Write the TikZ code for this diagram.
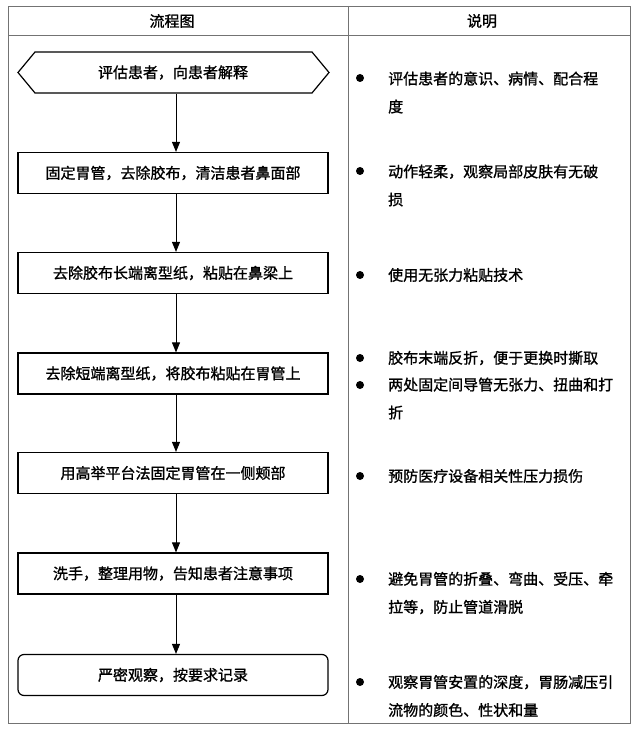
\documentclass[tikz,border=0pt]{standalone}
\usepackage{fontspec}
\newfontfamily\cjk[FakeBold=1.2]{Noto Sans CJK SC}
\usetikzlibrary{arrows.meta}

\tikzset{
    tableline/.style={draw=black!55,line width=0.9pt},
    stepbox/.style={draw,line width=1.2pt,minimum width=310pt,minimum height=41pt,inner sep=0pt,font=\cjk\fontsize{15}{28}\selectfont},
    notetext/.style={anchor=west,align=left,inner sep=0pt,font=\cjk\fontsize{15}{28}\selectfont},
    bulletdot/.style={circle,fill=black,inner sep=0pt,minimum size=8pt},
    flowarrow/.style={-{Triangle[length=10pt,width=8pt]},line width=1pt},
}

\begin{document}
\begin{tikzpicture}[x=1pt,y=-1pt]
        \useasboundingbox (0,0) rectangle (641,730);
        % table
        \draw[tableline] (8,6) rectangle (630,723);
        \draw[tableline] (8,35) -- (630,35);
        \draw[tableline] (348,6) -- (348,723);
        \node[font=\cjk\fontsize{15}{18}\selectfont] (headflow) at (172,21) {流程图};
        \node[font=\cjk\fontsize{15}{18}\selectfont] (headnote) at (482,21) {说明};

        % flow steps
        \node[stepbox,draw=none] (s1) at (173,72.5) {评估患者，向患者解释};
        \draw[line width=1.2pt] (18,72.5) -- (35,52) -- (312,52) -- (329,72.5) -- (312,93) -- (35,93) -- cycle;
        \foreach \n/\y/\t in {s2/173/固定胃管，去除胶布，清洁患者鼻面部,
                              s3/273/去除胶布长端离型纸，粘贴在鼻梁上,
                              s4/373.5/去除短端离型纸，将胶布粘贴在胃管上,
                              s5/473/用高举平台法固定胃管在一侧颊部,
                              s6/573.5/洗手，整理用物，告知患者注意事项}
            \node[stepbox] (\n) at (173,\y) {\t};
        \node[stepbox,rounded corners=6pt] (s7) at (173,675) {严密观察，按要求记录};

        \foreach \a/\b in {s1/s2,s2/s3,s3/s4,s4/s5,s5/s6,s6/s7}
            \draw[flowarrow] ([xshift=3pt]\a.south) -- ([xshift=3pt]\b.north);

        % notes
        \foreach \n/\by/\y/\t in {n1/78/92.5/{评估患者的意识、病情、配合程\\度},
                                  n2/171/185.5/{动作轻柔，观察局部皮肤有无破\\损},
                                  n3/275/275/{使用无张力粘贴技术},
                                  n4/358/358/{胶布末端反折，便于更换时撕取},
                                  n5/385/398.5/{两处固定间导管无张力、扭曲和打\\折},
                                  n6/476/476/{预防医疗设备相关性压力损伤},
                                  n7/579/593/{避免胃管的折叠、弯曲、受压、牵\\拉等，防止管道滑脱},
                                  n8/682/696/{观察胃管安置的深度，胃肠减压引\\流物的颜色、性状和量}}
        {
            \node[bulletdot] (b\n) at (360,\by) {};
            \node[notetext] (\n) at (388,\y) {\t};
        }
\end{tikzpicture}
\end{document}
